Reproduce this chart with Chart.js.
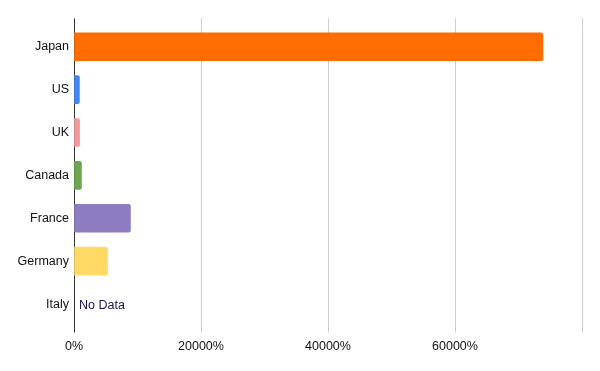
<!DOCTYPE html>
<html><head><meta charset="utf-8">
<script src="https://cdn.jsdelivr.net/npm/chart.js@4/dist/chart.umd.min.js"></script>
<style>html,body{margin:0;padding:0;background:#fff;}#wrap{width:600px;height:371px;}</style>
</head><body><div id="wrap"><canvas id="c" width="600" height="371"></canvas></div>
<script>
const categories = ["Japan", "US", "UK", "Canada", "France", "Germany", "Italy"];
const values = [73850, 850, 880, 1170, 8890, 5270, null];
const barColors = ["#ff6d01", "#4285f4", "#f4999b", "#6aa84f", "#8e7cc3", "#ffd966", "#999999"];
const tickValues = [0, 20000, 40000, 60000, 80000];
const noDataText = "No Data";

const noDataPlugin = {
  id: 'noData',
  afterDatasetsDraw(chart) {
    const ctx = chart.ctx, xs = chart.scales.x, ys = chart.scales.y;
    ctx.save();
    ctx.font = '12.5px "Liberation Sans", Arial, sans-serif';
    ctx.fillStyle = '#1d1148';
    ctx.textBaseline = 'middle';
    ctx.textAlign = 'left';
    values.forEach((v, i) => {
      if (v === null) ctx.fillText(noDataText, xs.getPixelForValue(0) + 5, ys.getPixelForValue(i) + 1.5);
    });
    ctx.restore();
  }
};

const gridColor = (c) => (c.tick && c.tick.value === 0) ? '#333333' : '#cccccc';
const fontSpec = { family: '"Liberation Sans", Arial, sans-serif', size: 12.5 };

new Chart(document.getElementById('c'), {
  type: 'bar',
  data: { labels: categories, datasets: [{ data: values, backgroundColor: barColors, barThickness: 28, borderRadius: 2, borderSkipped: 'start' }] },
  options: {
    indexAxis: 'y', responsive: false, animation: false,
    layout: { padding: { left: 0, right: 18, top: 18, bottom: 0 } },
    plugins: { legend: { display: false }, tooltip: { enabled: false } },
    scales: {
      x: {
        min: 0, max: 80000, position: 'bottom',
        afterBuildTicks: (s) => { s.ticks = tickValues.map(v => ({ value: v })); },
        afterFit: (s) => { s.height = 45.5; },
        grid: { color: gridColor, lineWidth: 1, tickLength: 7, drawTicks: true },
        border: { display: false },
        ticks: { padding: 7, color: '#111', font: fontSpec,
          callback: (v) => v === 80000 ? '' : v + '%' }
      },
      x2: {
        min: 0, max: 80000, position: 'top', axis: 'x',
        afterBuildTicks: (s) => { s.ticks = tickValues.map(v => ({ value: v })); },
        afterFit: (s) => { s.height = 7.3; },
        grid: { color: gridColor, lineWidth: 1, tickLength: 7, drawOnChartArea: false, drawTicks: true },
        border: { display: false },
        ticks: { display: false }
      },
      y: {
        afterFit: (s) => { s.width = 74; },
        grid: { display: false, drawTicks: false },
        border: { display: true, color: '#333333', width: 1 },
        ticks: { padding: 5, color: '#111', font: fontSpec }
      }
    }
  },
  plugins: [noDataPlugin]
});
</script>
</body></html>
